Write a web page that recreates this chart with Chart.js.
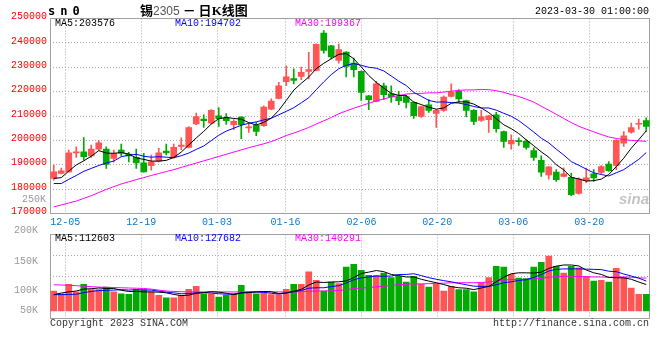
<!DOCTYPE html>
<html><head><meta charset="utf-8">
<script src="https://cdn.jsdelivr.net/npm/chart.js@4.4.0/dist/chart.umd.min.js"></script>
<style>
html,body{margin:0;padding:0;background:#fff;}
#wrap{position:relative;width:660px;height:360px;overflow:hidden;font-family:"Liberation Mono",monospace;font-size:10px;}
canvas{position:absolute;left:0;}
.t{position:absolute;white-space:pre;line-height:12px;font-size:10px;font-family:"Liberation Mono",monospace;}
</style></head><body>
<div id="wrap">
<canvas id="main" style="top:0" width="660" height="232"></canvas>
<canvas id="vol" style="top:220px" width="660" height="140"></canvas>
<div class="t" style="left:48px;top:4px;font:bold 12px 'DejaVu Sans Mono';letter-spacing:5px;line-height:14px;">sn0</div>
<div class="t" style="left:140px;top:2px;font:bold 13px 'Noto Sans CJK SC';line-height:16px;">锡<span style="font:12px 'Liberation Sans';color:#555;">2305</span> － 日<span style="font-family:'Liberation Serif';">K</span>线图</div>
<div class="t" style="right:11px;top:6px;color:#000;">2023-03-30 01:00:00</div>
<div class="t" style="left:55px;top:18px;color:#000;">MA5:203576</div>
<div class="t" style="left:175px;top:18px;color:#0000ff;">MA10:194702</div>
<div class="t" style="left:295px;top:18px;color:#ff00ff;">MA30:199367</div>
<div class="t" style="left:0;width:46px;text-align:right;top:194px;color:#999;">250K</div>
<div class="t" style="left:619px;top:191px;font:italic bold 15px 'Liberation Sans';color:#c4c4c4;line-height:16px;">sina</div>
<div class="t" style="left:55px;top:233px;color:#000;">MA5:112603</div>
<div class="t" style="left:175px;top:233px;color:#0000ff;">MA10:127682</div>
<div class="t" style="left:295px;top:233px;color:#ff00ff;">MA30:140291</div>
<div class="t" style="left:50px;top:318px;color:#333;">Copyright 2023 SINA.COM</div>
<div class="t" style="right:11px;top:318px;color:#333;">http://finance.sina.com.cn</div>
</div>
<script>
// ---------- data ----------
const dates = ['12-01','12-02','12-05','12-06','12-07','12-08','12-09','12-12','12-13','12-14','12-15','12-16','12-19','12-20','12-21','12-22','12-23','12-26','12-27','12-28','12-29','12-30',
'01-03','01-04','01-05','01-06','01-09','01-10','01-11','01-12','01-13','01-16','01-17','01-18','01-19','01-20','01-30','01-31',
'02-01','02-02','02-03','02-06','02-07','02-08','02-09','02-10','02-13','02-14','02-15','02-16','02-17','02-20','02-21','02-22','02-23','02-24','02-27','02-28',
'03-01','03-02','03-03','03-06','03-07','03-08','03-09','03-10','03-13','03-14','03-15','03-16','03-17','03-20','03-21','03-22','03-23','03-24','03-27','03-28','03-29','03-30'];
const xTickLabels = ['12-05','12-19','01-03','01-16','02-06','02-20','03-06','03-20'];
const priceTicks = [170000,180000,190000,200000,210000,220000,230000,240000,250000];

const opens = [184400,186400,187100,194900,195300,193600,196400,196400,192600,196000,
194400,193000,190800,189600,191500,195600,193200,197500,197100,206800,
208700,207100,210100,209200,206400,209600,205100,206300,206000,212800,
217200,224100,225400,226200,228300,228700,244000,238800,232800,236200,
231700,228300,218300,216000,222400,219100,218000,218000,215600,209800,
214600,211100,212300,218000,220100,216300,212300,208200,208500,210500,
203600,198500,199900,199600,195800,191800,185800,187000,185200,184800,
178200,183500,186300,186900,190300,189700,198900,203400,206600,208100];
const highs = [189900,188600,196000,197400,201100,198100,199900,197400,196000,198500,
195100,196400,194700,194000,196700,198500,198500,201000,205700,211200,
210500,212600,213500,211000,208500,209800,207100,207400,214200,217000,
223800,230600,229400,230100,236100,239600,245000,239000,239500,236400,
233800,228500,218500,224200,223500,222400,220100,218600,215800,214100,
216700,212600,218300,223200,220800,216500,212600,212300,210300,211500,
203800,202300,201000,200300,196900,193700,189300,188000,188700,186600,
184600,188600,188000,189700,191300,200300,203600,207100,208700,209200];
const lows = [183700,186200,187000,193000,191900,193000,196000,188500,191200,193600,
191200,188500,187000,187800,191200,194000,192700,196200,196900,206400,
205300,206800,205700,206500,204400,200700,203300,201900,205700,212600,
217000,222400,223200,224900,225200,228500,235800,233400,231700,226000,
226000,216400,212600,215800,216700,215600,214600,213300,209000,209400,
211500,205300,211900,217800,215600,209600,206400,207800,203300,203400,
197100,196400,197900,196400,191800,185200,184100,183200,185000,177300,
177900,182600,183200,186300,187300,188000,197500,203000,204600,203700];
const closes = [187100,187500,194900,195200,193300,196400,199000,190100,194700,194700,
193600,190800,187100,191200,194900,194900,197100,198100,205300,209800,
208100,212300,208900,208100,207800,206400,205500,203700,213700,216100,
222400,226100,224600,227900,229000,239400,236900,234200,237200,230300,
229000,219700,216700,223200,218700,217800,216300,215600,210100,213900,
212300,212300,217800,219800,217000,212300,207800,209700,210100,204800,
199600,200000,199500,197100,193000,187000,189100,183900,186300,177700,
184100,184600,184600,189300,187600,200000,201900,205300,206800,205700];
const ma5 = [184400,184700,187400,189900,191600,193500,195800,194800,194700,195000,
194400,192800,192200,191500,191500,191800,193000,195200,198100,201000,
203700,206700,208900,209400,209000,208700,207300,206300,207400,209100,
212300,216400,220600,223400,226000,229400,231600,233500,235300,235600,
233500,230100,226600,223800,221500,219200,218500,218300,215700,214700,
213600,212800,213300,215200,215800,215800,214900,213300,211400,208900,
206400,204800,202800,200200,197800,195300,193100,190000,187900,184800,
184200,183300,183500,184100,186000,189200,192700,196800,200300,203900];
const ma10 = [182300,182300,184000,185600,187300,188500,189700,190700,191500,193300,
193900,194300,193500,193100,193300,193100,192900,193700,194800,196300,
197700,199900,202100,203800,205000,206200,207000,207600,208400,209100,
210500,211900,213400,215400,217500,220800,224000,227000,229400,230800,
231500,230800,230000,229600,228500,226400,224300,222500,219700,218100,
216400,215700,215800,215500,215300,214700,213900,213300,213300,212400,
211100,209900,208100,205800,203400,200900,199000,196400,194000,191300,
189800,188200,186700,186000,185400,186700,188000,190100,192200,195000];
const ma30 = [172700,173500,174300,175100,176200,177300,178600,179900,181000,182100,
183000,183900,184700,185600,186400,187200,188000,188900,189800,190700,
191600,192500,193400,194300,195200,196100,197000,197800,198600,199500,
200700,202000,203000,204100,205300,206700,208000,209400,210900,212100,
213200,214200,215200,216200,217000,217800,218400,219000,219200,219300,
219500,219500,219800,220200,220500,220700,220700,220900,220800,220400,
219700,218800,218000,216900,215700,214000,212400,210700,209000,207300,
205800,204600,203500,202400,201400,200800,200300,200000,199800,199600];

const volumes = [87000,75000,116000,83000,116000,93000,93000,104000,83000,75000,
72000,93000,93000,83000,68000,57000,57000,68000,94000,107000,
75000,75000,61000,68000,75000,112000,83000,75000,78000,71000,
71000,94000,116000,116000,170000,133000,87000,126000,119000,191000,
203000,177000,155000,155000,165000,145000,151000,126000,151000,116000,
104000,116000,87000,107000,93000,93000,83000,122000,145000,194000,
191000,159000,143000,141000,191000,212000,239000,194000,165000,194000,
188000,151000,130000,133000,126000,186000,145000,100000,72000,72000];
const vma5 = [71000,78000,83000,87000,95000,97000,100000,98000,98000,90000,
85000,85000,83000,83000,82000,79000,72000,67000,69000,77000,
80000,84000,82000,77000,71000,78000,80000,83000,85000,84000,
76000,78000,86000,94000,113000,126000,124000,126000,127000,131000,
145000,163000,169000,176000,171000,159000,154000,148000,148000,138000,
130000,123000,115000,106000,101000,99000,93000,100000,107000,127000,
147000,162000,166000,166000,165000,169000,185000,195000,200000,200000,
196000,178000,166000,159000,146000,145000,144000,138000,126000,115000];
const vma10 = [71000,71000,72000,73000,80000,85000,89000,90000,91000,93000,
91000,93000,91000,91000,86000,82000,79000,75000,76000,79000,
80000,78000,75000,73000,74000,79000,82000,83000,81000,77000,
74000,79000,84000,89000,99000,101000,101000,106000,110000,122000,
136000,144000,148000,152000,151000,152000,159000,159000,162000,154000,
145000,138000,132000,127000,120000,114000,108000,107000,107000,114000,
123000,127000,133000,136000,146000,158000,174000,181000,183000,183000,
183000,182000,181000,180000,173000,171000,161000,152000,143000,130000];
const vma30 = [114000,113000,112000,110000,108000,106000,104000,103000,102000,101000,
100000,99000,98000,95000,91000,87000,85000,84000,83000,83000,
83000,83000,83000,83000,83000,83000,83000,83000,83000,83000,
83000,83000,83000,84000,86000,87000,87000,88000,89000,93000,
97000,100000,102000,105000,108000,111000,114000,116000,118000,118000,
119000,120000,121000,123000,123000,123000,123000,124000,126000,130000,
134000,137000,137000,138000,139000,142000,147000,149000,151000,151000,
150000,149000,148000,148000,146000,148000,148000,147000,144000,143000];
const volTickLabels = ['50K','100K','150K','200K'];
const volTickAt = [-13000,73900,200000,332600];

// ---------- styling ----------
const UP = '#ff5555', DOWN = '#00aa00', GRID = '#a8a8a8', FRAME = '#a0a0a0';
const MONO = 'Liberation Mono';
const VOL_MIN = -32600, VOL_MAX = 332600;
const candleColors = closes.map((c, i) => c >= opens[i] ? UP : DOWN);

const framePlugin = {
  id: 'frame',
  beforeDatasetsDraw(chart) {
    const a = chart.chartArea, c = chart.ctx;
    const l = Math.floor(a.left) + 0.5, r = Math.ceil(a.right) - 0.5;
    const t = Math.floor(a.top) + 0.5, b = Math.floor(a.bottom) + 0.5;
    c.save(); c.strokeStyle = FRAME; c.lineWidth = 1;
    c.strokeRect(l, t, r - l, b - t); c.restore();
  }
};
const dateGrid = ctx => xTickLabels.includes(dates[ctx.index]) ? GRID : 'rgba(0,0,0,0)';
const lineDs = (data, color) => ({type: 'line', data, borderColor: color, borderWidth: 1, pointRadius: 0, tension: 0, order: 0, xAxisID: 'x', yAxisID: 'y'});
const common = {
  responsive: false, animation: false, events: [],
  plugins: {legend: {display: false}, tooltip: {enabled: false}},
};

new Chart(document.getElementById('main'), {
  type: 'bar',
  data: {labels: dates, datasets: [
    lineDs(ma5, '#000000'), lineDs(ma10, '#0000ff'), lineDs(ma30, '#ff00ff'),
    {type: 'bar', data: opens.map((o, i) => [o, closes[i]]), backgroundColor: candleColors, barThickness: 6, minBarLength: 1, grouped: false, order: 1, xAxisID: 'x', yAxisID: 'y'},
    {type: 'bar', data: lows.map((l, i) => [l, highs[i]]), backgroundColor: candleColors, barThickness: 1, grouped: false, order: 2, xAxisID: 'x', yAxisID: 'y'}
  ]},
  options: Object.assign({}, common, {
    layout: {padding: {left: 0, right: 10, top: 18.5, bottom: 0}},
    scales: {
      x: {type: 'category', display: false, offset: true},
      xg: {type: 'category', labels: dates, position: 'bottom', offset: false,
        grid: {offset: false, drawTicks: false, color: dateGrid, lineWidth: 1, borderDash: [1, 2]},
        border: {display: false, dash: [1, 2]},
        ticks: {autoSkip: false, maxRotation: 0, minRotation: 0, padding: 3, color: '#0a78d2', font: {family: MONO, size: 10},
          callback: (v, i) => xTickLabels.includes(dates[i]) ? dates[i] : ''},
        afterFit: s => { s.height = 18.5; }},
      y: {type: 'linear', position: 'left', min: priceTicks[0], max: priceTicks[priceTicks.length - 1],
        afterBuildTicks: s => { s.ticks = priceTicks.map(v => ({value: v})); },
        grid: {drawTicks: false, borderDash: [1, 2], color: ctx => (ctx.tick && ctx.tick.value > priceTicks[0] && ctx.tick.value < priceTicks[priceTicks.length - 1]) ? GRID : 'rgba(0,0,0,0)'},
        border: {display: false, dash: [1, 2]},
        ticks: {autoSkip: false, padding: 3, labelOffset: -2, color: '#ff0000', font: {family: MONO, size: 10}, callback: v => String(v)},
        afterFit: s => { s.width = 50; }}
    }
  }),
  plugins: [framePlugin]
});

new Chart(document.getElementById('vol'), {
  type: 'bar',
  data: {labels: dates, datasets: [
    lineDs(vma5, '#000000'), lineDs(vma10, '#0000ff'), lineDs(vma30, '#ff00ff'),
    {type: 'bar', data: volumes, backgroundColor: candleColors, barThickness: 6, order: 1, xAxisID: 'x', yAxisID: 'y'}
  ]},
  options: Object.assign({}, common, {
    layout: {padding: {left: 0, right: 10, top: 14.5, bottom: 0}},
    scales: {
      x: {type: 'category', display: false, offset: true},
      xg: {type: 'category', labels: dates, position: 'bottom', offset: false,
        grid: {offset: false, drawTicks: false, color: dateGrid, lineWidth: 1, borderDash: [1, 2]},
        border: {display: false, dash: [1, 2]},
        ticks: {display: false, autoSkip: false},
        afterFit: s => { s.height = 41.5; }},
      y: {type: 'linear', position: 'right', min: VOL_MIN, max: VOL_MAX,
        afterBuildTicks: s => { s.ticks = [0.25, 0.5].map(f => ({value: s.max - f * (s.max - s.min)})); },
        grid: {drawTicks: false, color: GRID, borderDash: [1, 2]},
        border: {display: false, dash: [1, 2]},
        ticks: {display: false},
        afterFit: s => { s.width = 0; }},
      vl: {type: 'linear', position: 'left', min: VOL_MIN, max: VOL_MAX,
        afterBuildTicks: s => { s.ticks = volTickAt.map(v => ({value: v})); },
        grid: {display: false}, border: {display: false},
        ticks: {autoSkip: false, padding: 4, labelOffset: -4, color: '#999999', font: {family: MONO, size: 10}, callback: (v, i) => volTickLabels[i]},
        afterFit: s => { s.width = 50; }}
    }
  }),
  plugins: [framePlugin]
});
</script>
</body></html>
